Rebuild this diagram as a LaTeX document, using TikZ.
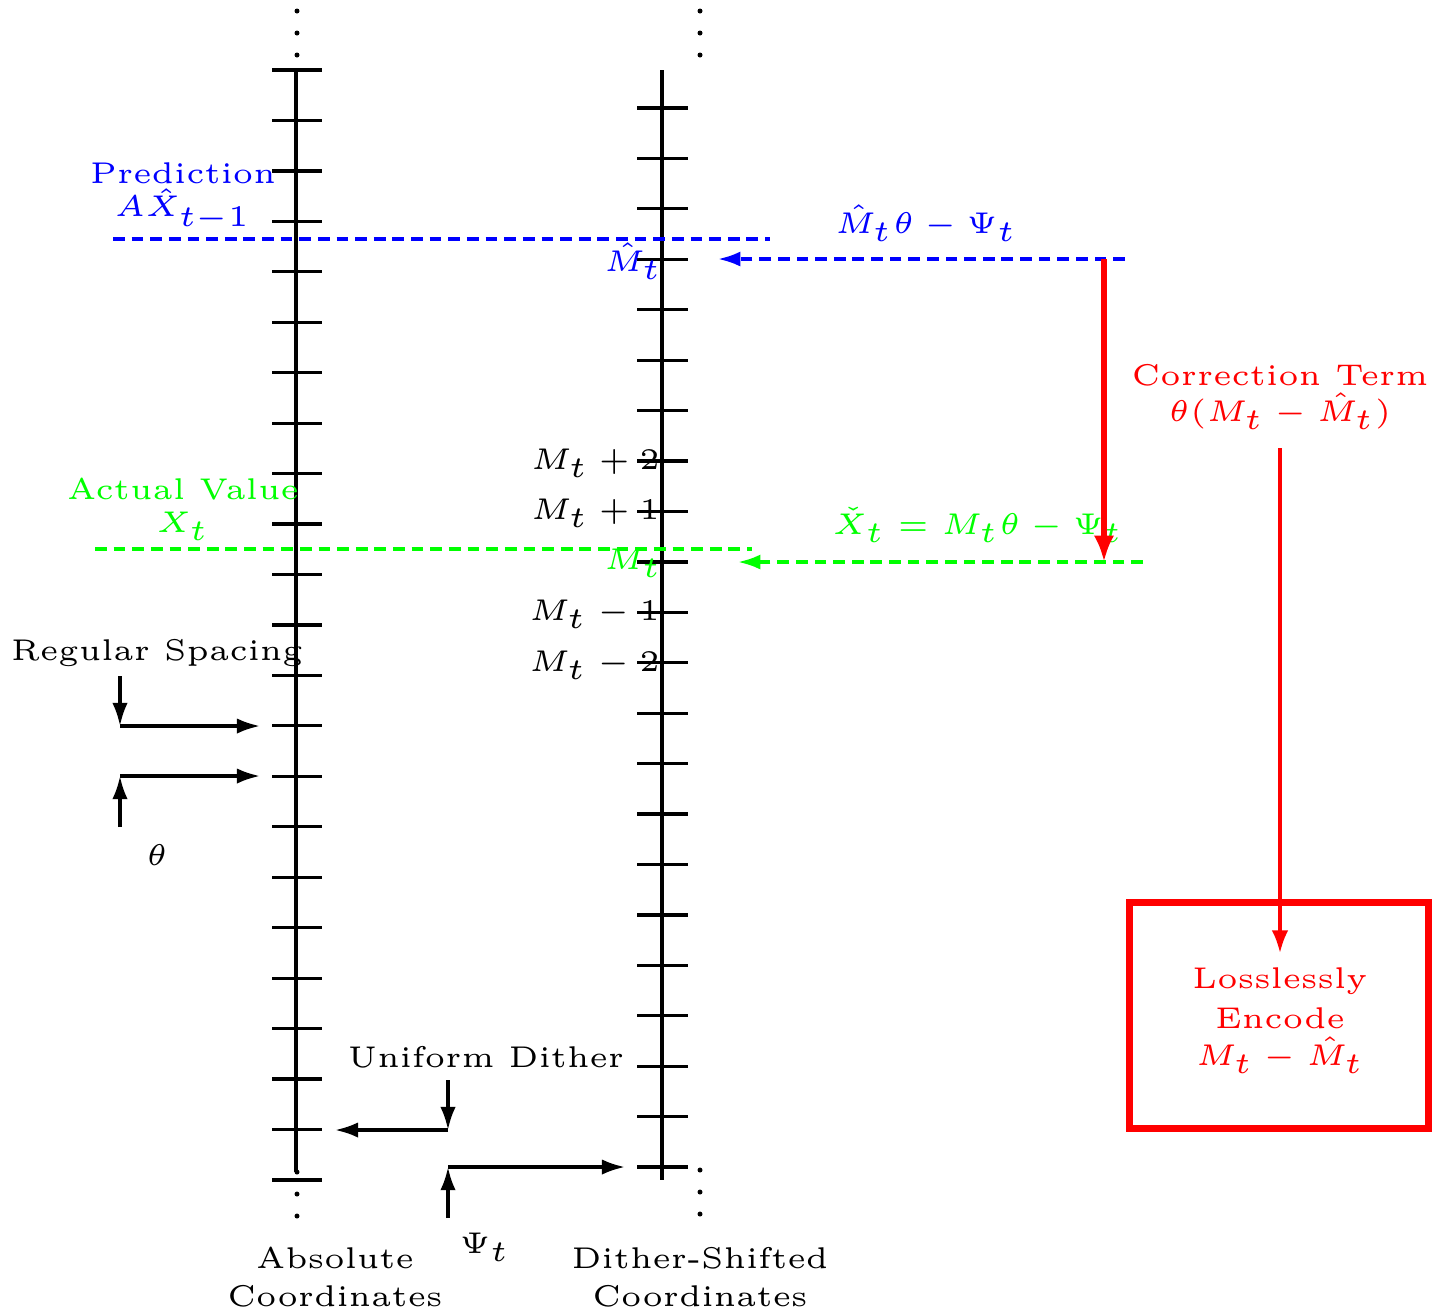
\documentclass[tikz,border=0pt]{standalone}
\usetikzlibrary{arrows.meta}
\begin{document}
\begin{tikzpicture}[x=0.2469pt,y=-0.2469pt,
  axisline/.style={line width=0.8pt},
  tickline/.style={line width=0.8pt},
  dotmark/.style={fill=black,draw=none},
  blkarrow/.style={line width=0.8pt,-{Latex[length=5.7pt,width=3.8pt]}},
  bluedash/.style={blue,line width=0.8pt,dash pattern=on 2.9pt off 1.7pt},
  greendash/.style={green,line width=0.8pt,dash pattern=on 2.9pt off 1.7pt},
  lbl/.style={inner sep=0pt,align=center,font=\fontsize{5}{6}\selectfont,scale=1.48},
]
\useasboundingbox (0,0) rectangle (1433,1312);

% axes
\draw[axisline] (296,70) -- (296,1172);
\foreach \k in {0,...,22} \draw[tickline] (272,{70+50.45*\k}) -- (322,{70+50.45*\k});
\draw[axisline] (662,70) -- (662,1180);
\foreach \k in {0,...,21} \draw[tickline] (637,{108+50.43*\k}) -- (688,{108+50.43*\k});

% dots
\foreach \y in {11,33,55} {\fill[dotmark] (297,\y) circle (2.5); \fill[dotmark] (700,\y) circle (2.5);}
\foreach \y in {1172,1194,1216} \fill[dotmark] (297,\y) circle (2.5);
\foreach \y in {1170,1192,1214} \fill[dotmark] (700,\y) circle (2.5);

% prediction
\node[lbl,blue] (pred) at (183,173) {Prediction};
\node[lbl,blue] (predm) at (183,210) {$A\hat X_{t-1}$};
\coordinate (pl0) at (113,239); \coordinate (pl1) at (770,239);
\draw[bluedash] (pl0) -- (pl1);
\coordinate (bs) at (1125,259); \coordinate (be) at (718,259);
\draw[bluedash,-{Latex[length=5.5pt,width=3.7pt]}] (bs) -- (be);
\node[lbl,blue] (bl) at (926,223) {$\hat M_t\theta-\Psi_t$};
\node[lbl,blue] (hatm) at (633,261) {$\hat M_t$};

% actual
\node[lbl,green] (act) at (183,489) {Actual Value};
\node[lbl,green] (actm) at (183,526) {$X_t$};
\coordinate (al0) at (95,549); \coordinate (al1) at (752,549);
\draw[greendash] (al0) -- (al1);
\coordinate (gs) at (1143,562); \coordinate (ge) at (738,562);
\draw[greendash,-{Latex[length=5.5pt,width=3.7pt]}] (gs) -- (ge);
\node[lbl,green] (gl) at (978,525) {$\check X_t = M_t\theta-\Psi_t$};
\node[lbl,green] (mt) at (633,563) {$M_t$};

% tick labels
\node[lbl,anchor=east] (mp2) at (661,463) {$M_t+2$};
\node[lbl,anchor=east] (mp1) at (661,513) {$M_t+1$};
\node[lbl,anchor=east] (mm1) at (661,614) {$M_t-1$};
\node[lbl,anchor=east] (mm2) at (661,665) {$M_t-2$};

% red correction
\coordinate (rt) at (1104,259); \coordinate (rb) at (1104,562);
\draw[red,line width=1.4pt,-{Latex[length=6.5pt,width=5pt]}] (rt) -- (rb);
\node[lbl,red] (corr) at (1280,375) {Correction Term};
\node[lbl,red] (corrm) at (1280,411) {$\theta(M_t-\hat M_t)$};
\node[draw=red,line width=1.7pt,minimum width=74pt,minimum height=56pt,inner sep=0pt] (box) at (1279,1015.5) {};
\node[lbl,red] (b1) at (1280,981) {Losslessly};
\node[lbl,red] (b2) at (1280,1018) {Encode};
\node[lbl,red] (b3) at (1280,1055) {$M_t-\hat M_t$};
\coordinate (ct) at (1280,448); \coordinate (cb) at (1280,953);
\draw[red,line width=0.8pt,-{Latex[length=5.6pt,width=4.1pt]}] (ct) -- (cb);

% regular spacing
\node[lbl] (reg) at (157,653) {Regular Spacing};
\coordinate (r1) at (120,676); \coordinate (r2) at (120,726); \coordinate (r3) at (260,726);
\coordinate (r4) at (120,827); \coordinate (r5) at (120,776); \coordinate (r6) at (260,776);
\draw[blkarrow] (r1) -- (r2);
\draw[blkarrow] (r2) -- (r3);
\draw[blkarrow] (r4) -- (r5);
\draw[blkarrow] (r5) -- (r6);
\node[lbl] (th) at (157,855) {$\theta$};

% dither
\node[lbl] (ud) at (486,1057) {Uniform Dither};
\coordinate (d1) at (448,1080); \coordinate (d2) at (448,1130); \coordinate (d3) at (335,1130);
\coordinate (d4) at (448,1218); \coordinate (d5) at (448,1167); \coordinate (d6) at (625,1167);
\draw[blkarrow] (d1) -- (d2);
\draw[blkarrow] (d2) -- (d3);
\draw[blkarrow] (d4) -- (d5);
\draw[blkarrow] (d5) -- (d6);
\node[lbl] (psi) at (485,1247) {$\Psi_t$};

% axis titles
\node[lbl] (abs1) at (335,1258) {Absolute};
\node[lbl] (abs2) at (335,1296) {Coordinates};
\node[lbl] (ds1) at (700,1258) {Dither-Shifted};
\node[lbl] (ds2) at (700,1296) {Coordinates};
\end{tikzpicture}
\end{document}
